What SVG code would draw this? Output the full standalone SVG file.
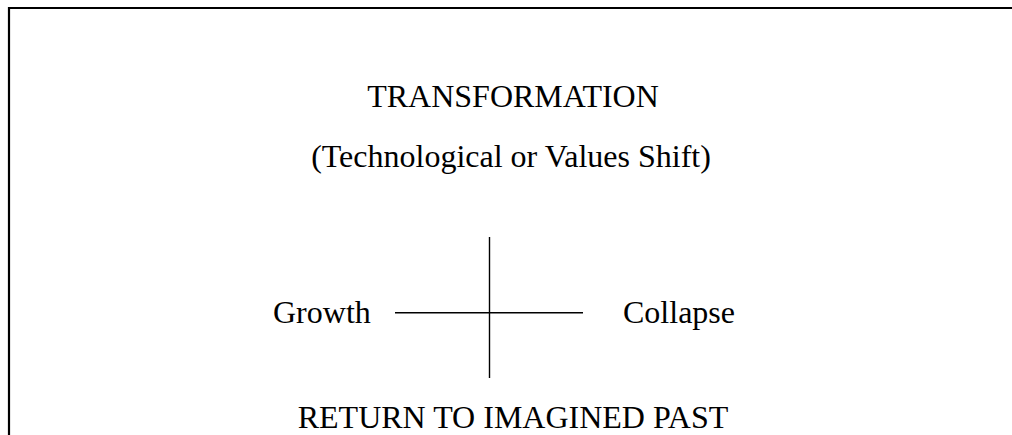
<svg xmlns="http://www.w3.org/2000/svg" width="1012" height="435" viewBox="0 0 1012 435">
  <style>
    .frame { fill: none; stroke: #000; stroke-width: 2.2; }
    .axis { stroke: #000; stroke-width: 1.4; }
    .label { font-family: "Liberation Serif", "Times New Roman", serif; font-size: 32px; fill: #000; }
    .mid { text-anchor: middle; }
  </style>
  <rect width="1012" height="435" fill="#fff"/>
  <!-- page frame: top and left edges -->
  <polyline class="frame" points="9,440 9,8 1015,8"/>

  <g id="transformation">
    <text class="label mid" x="513" y="107">TRANSFORMATION</text>
    <text class="label mid" x="511" y="166.5">(Technological or Values Shift)</text>
  </g>
  <g id="growth">
    <text class="label" x="273" y="322.5">Growth</text>
  </g>
  <g id="collapse">
    <text class="label" x="623" y="322.5">Collapse</text>
  </g>
  <g id="return">
    <text class="label mid" x="513" y="427.5">RETURN TO IMAGINED PAST</text>
  </g>

  <g id="connectors">
    <line class="axis" x1="489.5" y1="237" x2="489.5" y2="378"/>
    <line class="axis" x1="395" y1="312.7" x2="583" y2="312.7"/>
  </g>
</svg>
